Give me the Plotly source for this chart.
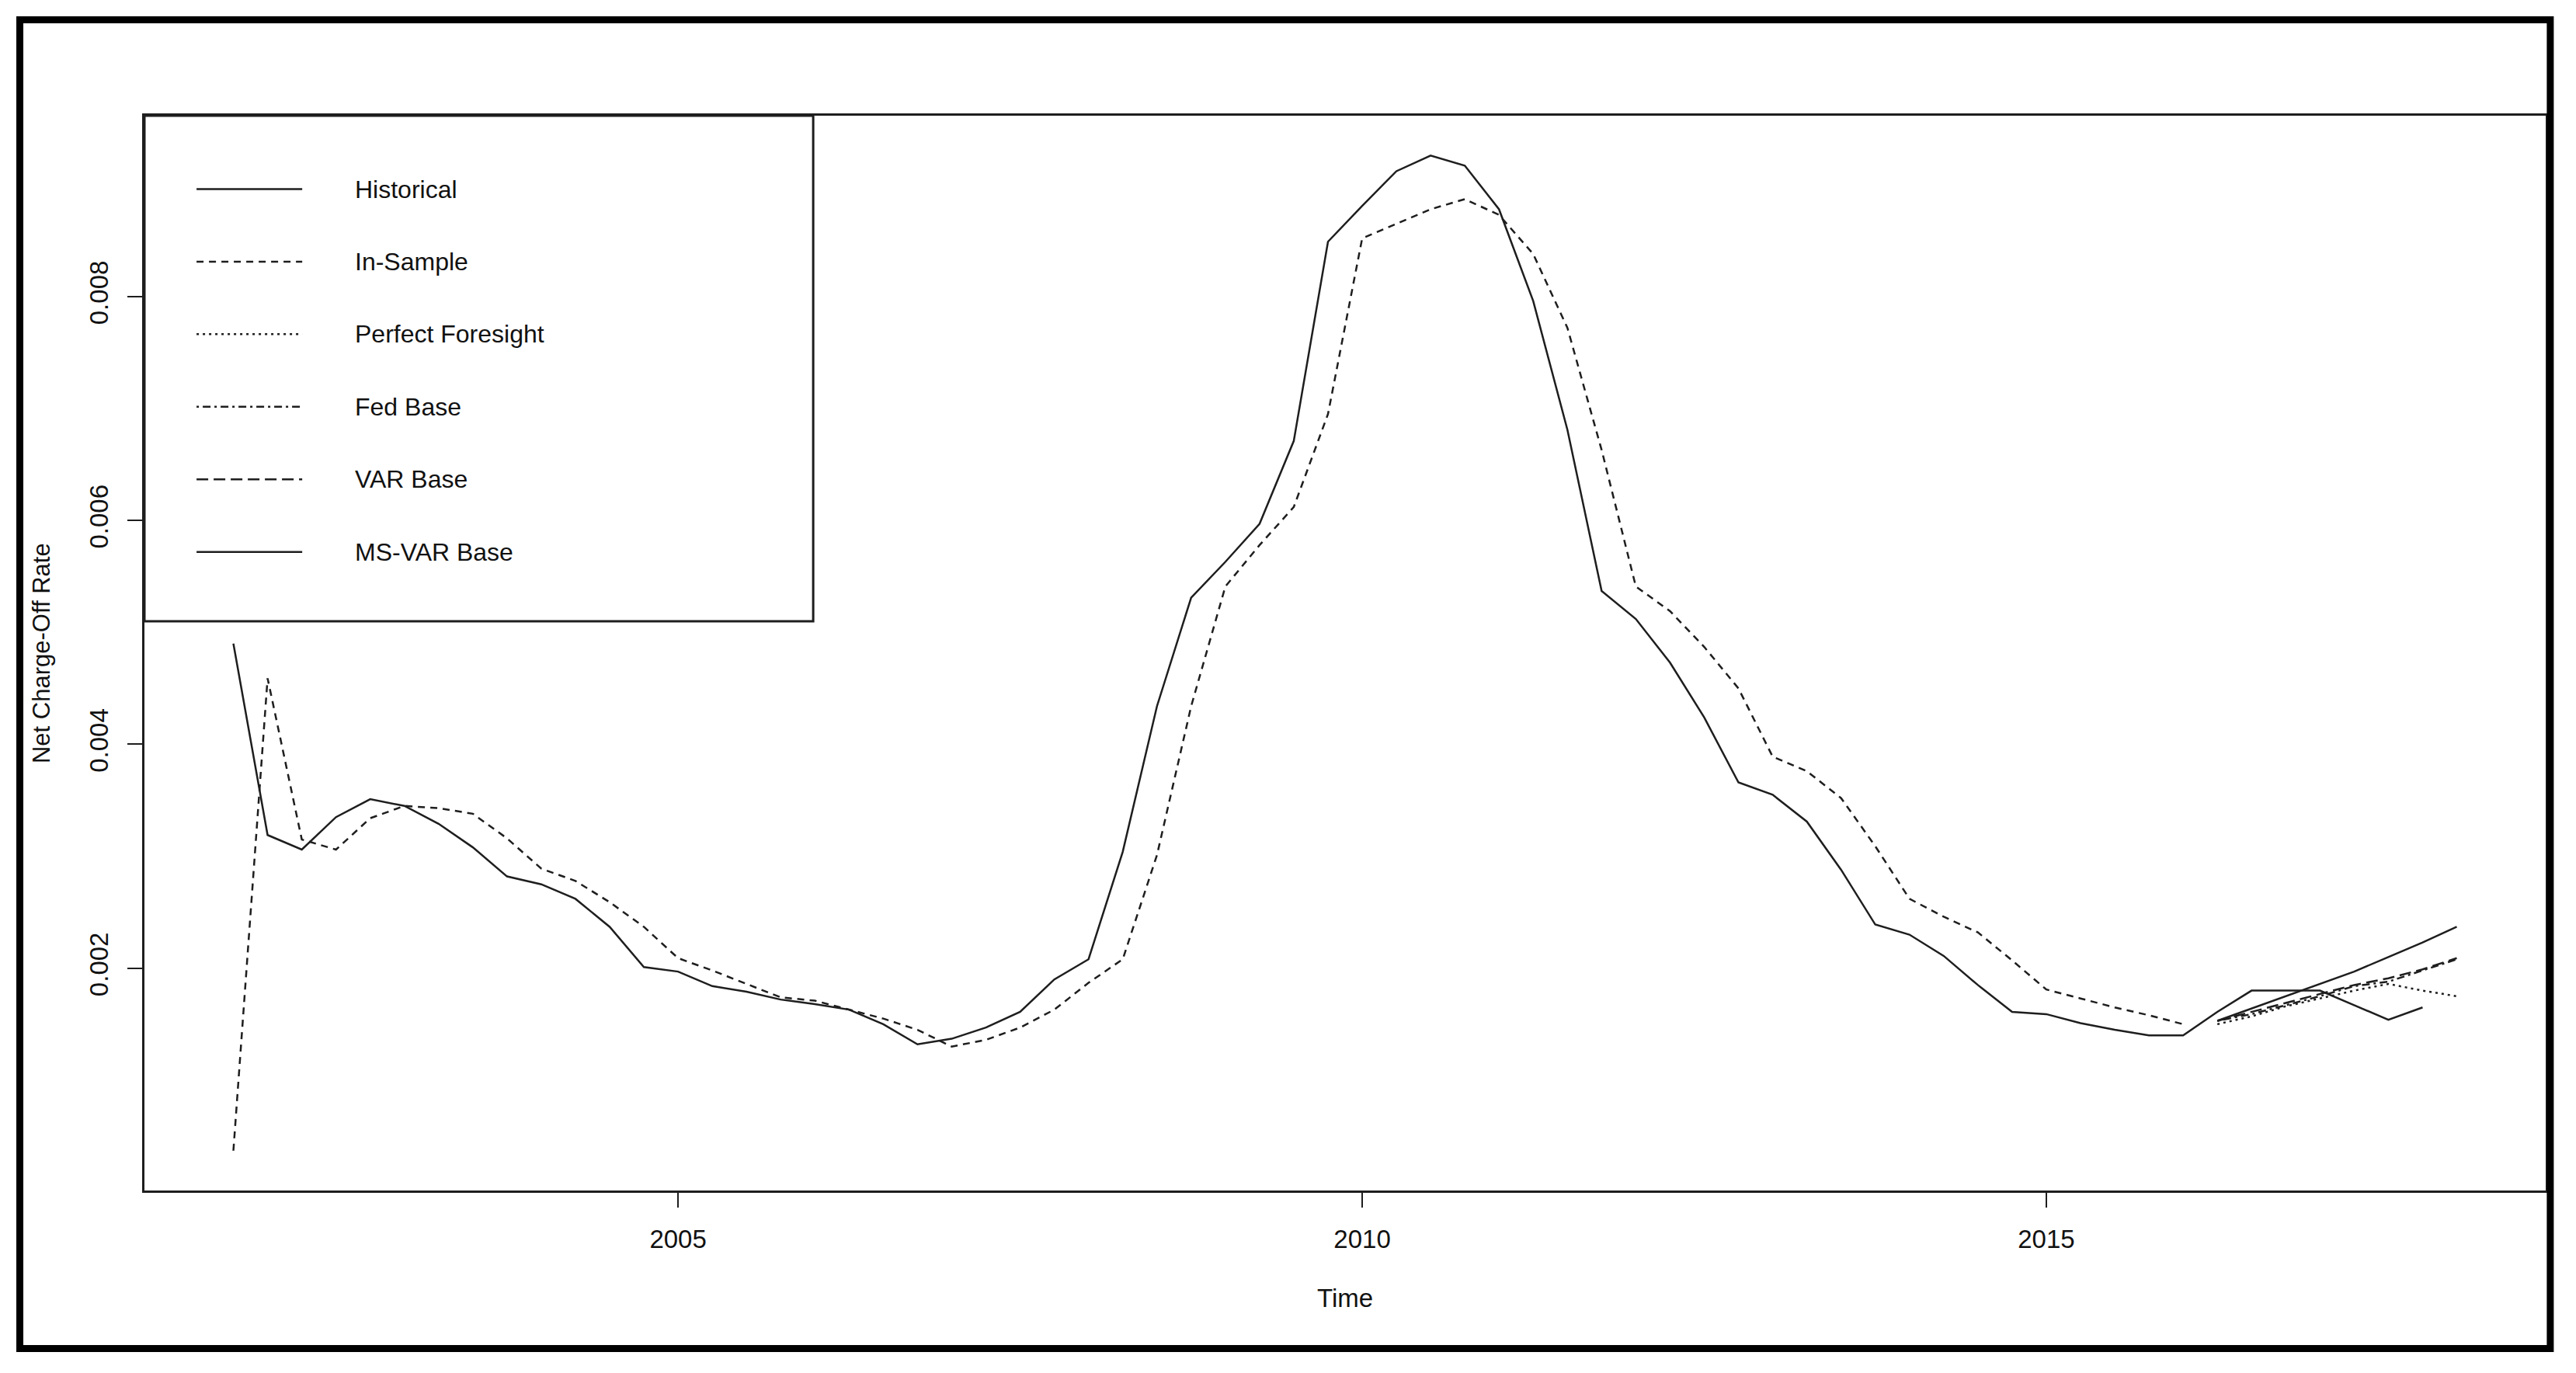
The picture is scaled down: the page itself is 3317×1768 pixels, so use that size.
"""Net charge-off rate: historical, in-sample fit and base-scenario forecasts."""

import pandas as pd
import plotly.graph_objects as go

# quarterly periods covered by each series
hist_quarters = pd.period_range("2001Q4", "2017Q4", freq="Q")
in_sample_quarters = pd.period_range("2001Q4", "2016Q1", freq="Q")
forecast_quarters = pd.period_range("2016Q2", "2018Q1", freq="Q")

historical = [
    0.00490, 0.00319, 0.00306, 0.00335, 0.00351, 0.00345, 0.00329, 0.00308,
    0.00282, 0.00275, 0.00262, 0.00237, 0.00201, 0.00197, 0.00184, 0.00179,
    0.00172, 0.00168, 0.00163, 0.00150, 0.00132, 0.00137, 0.00147, 0.00161,
    0.00190, 0.00208, 0.00304, 0.00434, 0.00531, 0.00563, 0.00597, 0.00671,
    0.00849, 0.00881, 0.00912, 0.00926, 0.00917, 0.00878, 0.00796, 0.00681,
    0.00537, 0.00512, 0.00473, 0.00424, 0.00366, 0.00355, 0.00331, 0.00288,
    0.00239, 0.00230, 0.00211, 0.00185, 0.00161, 0.00159, 0.00151, 0.00145,
    0.00140, 0.00140, 0.00161, 0.00180, 0.00180, 0.00180, 0.00167, 0.00154,
    0.00165,
]
in_sample = [
    0.00037, 0.00459, 0.00315, 0.00306, 0.00334, 0.00345, 0.00343, 0.00338,
    0.00316, 0.00289, 0.00278, 0.00259, 0.00237, 0.00209, 0.00198, 0.00186,
    0.00174, 0.00171, 0.00163, 0.00155, 0.00145, 0.00130, 0.00136, 0.00147,
    0.00163, 0.00187, 0.00208, 0.00301, 0.00434, 0.00541, 0.00578, 0.00612,
    0.00695, 0.00852, 0.00865, 0.00878, 0.00887, 0.00873, 0.00838, 0.00772,
    0.00663, 0.00541, 0.00519, 0.00487, 0.00450, 0.00389, 0.00376, 0.00352,
    0.00309, 0.00262, 0.00246, 0.00232, 0.00207, 0.00181, 0.00173, 0.00165,
    0.00158, 0.00150,
]
perfect_foresight = [0.00150, 0.00157, 0.00166, 0.00173, 0.00180, 0.00186,
                     0.00180, 0.00175]
fed_base = [0.00153, 0.00159, 0.00167, 0.00175, 0.00184, 0.00188, 0.00198,
            0.00208]
var_base = [0.00153, 0.00161, 0.00169, 0.00177, 0.00185, 0.00191, 0.00199,
            0.00209]
ms_var_base = [0.00153, 0.00164, 0.00175, 0.00186, 0.00197, 0.00210, 0.00223,
               0.00237]

x_tickvals = [2005, 2010, 2015]
y_tickvals = [0.002, 0.004, 0.006, 0.008]
y_ticktext = ["0.002", "0.004", "0.006", "0.008"]

legend_labels = ["Historical", "In-Sample", "Perfect Foresight", "Fed Base",
                 "VAR Base", "MS-VAR Base"]

# R style lty: solid, dashed, dotted, dotdash, longdash, solid
line_dashes = ["solid", "9px,7px", "3px,5px", "3px,5px,10px,5px",
               "15px,7px", "solid"]

FONT = "Liberation Sans, Arial, sans-serif"


def to_decimal_years(periods):
    """Turn quarterly periods into decimal years like an R ts index."""
    return [p.year + (p.quarter - 1) / 4 for p in periods]


def padded_range(values):
    """R default axis range: data range stretched by 4% each side."""
    lo, hi = min(values), max(values)
    pad = 0.04 * (hi - lo)
    return [lo - pad, hi + pad]


def get_traces():
    """Build one scatter line per series."""
    series = [
        (hist_quarters, historical),
        (in_sample_quarters, in_sample),
        (forecast_quarters, perfect_foresight),
        (forecast_quarters, fed_base),
        (forecast_quarters, var_base),
        (forecast_quarters, ms_var_base),
    ]
    ret = []
    for (quarters, values), name, dash in zip(series, legend_labels,
                                              line_dashes):
        ret.append(go.Scatter(
            x=to_decimal_years(quarters),
            y=values,
            name=name,
            mode="lines",
            line={"color": "#1e1e1e", "width": 2.5, "dash": dash},
        ))
    return ret


def get_legend_shapes_and_text():
    """Hand drawn legend box in the upper left, as R's legend() does."""
    shapes = [{
        "type": "rect", "xref": "x domain", "yref": "y domain",
        "x0": 0, "x1": 0.2785, "y0": 0.5296, "y1": 1,
        "line": {"color": "#1e1e1e", "width": 3},
        "fillcolor": "white", "layer": "above",
    }]
    annotations = []
    for i, (label, dash) in enumerate(zip(legend_labels, line_dashes)):
        y = 0.9317 - i * 0.0675
        shapes.append({
            "type": "line", "xref": "x domain", "yref": "y domain",
            "x0": 0.0217, "x1": 0.0657, "y0": y, "y1": y,
            "line": {"color": "#1e1e1e", "width": 2.5, "dash": dash},
            "layer": "above",
        })
        annotations.append({
            "text": label, "xref": "x domain", "yref": "y domain",
            "x": 0.087, "y": y, "xanchor": "left", "yanchor": "middle",
            "showarrow": False,
            "font": {"family": FONT, "size": 32, "color": "#111"},
        })
    return shapes, annotations


def get_fig():
    """Put together the full figure."""
    traces = get_traces()
    all_x = [x for t in traces for x in t.x]
    all_y = [y for t in traces for y in t.y]
    shapes, annotations = get_legend_shapes_and_text()

    # thick outer frame round the whole picture
    shapes.append({
        "type": "rect", "xref": "paper", "yref": "paper",
        "x0": -0.0519, "x1": 1.0019, "y0": -0.1470, "y1": 1.0892,
        "line": {"color": "black", "width": 9},
    })
    annotations += [
        {
            "text": "Time", "xref": "paper", "yref": "paper",
            "x": 0.5, "y": -0.1004, "xanchor": "center",
            "yanchor": "middle", "showarrow": False,
            "font": {"family": FONT, "size": 33, "color": "#111"},
        },
        {
            "text": "Net Charge-Off Rate", "xref": "paper", "yref": "paper",
            "x": -0.043, "y": 0.5, "xanchor": "center",
            "yanchor": "middle", "textangle": -90, "showarrow": False,
            "font": {"family": FONT, "size": 31, "color": "#111"},
        },
    ]

    axis_common = {
        "showline": True, "mirror": True, "linecolor": "#1e1e1e",
        "linewidth": 3, "showgrid": False, "zeroline": False,
        "ticks": "outside", "ticklen": 19, "tickwidth": 2,
        "tickcolor": "#1e1e1e", "fixedrange": True,
        "tickfont": {"family": FONT, "size": 33, "color": "#111"},
    }
    # page body keeps an 8px margin, so the figure is 8px smaller
    fig = go.Figure(
        data=traces,
        layout={
            "width": 3309, "height": 1760, "autosize": False,
            "margin": {"l": 178, "r": 39, "t": 141, "b": 235},
            "paper_bgcolor": "white", "plot_bgcolor": "white",
            "showlegend": False,
            "xaxis": dict(axis_common, **{
                "range": padded_range(all_x),
                "tickmode": "array",
                "tickvals": x_tickvals,
                "ticklabelstandoff": 12,
            }),
            "yaxis": dict(axis_common, **{
                "range": padded_range(all_y),
                "tickmode": "array",
                "tickvals": y_tickvals,
                "ticktext": y_ticktext,
                "tickangle": -90,
                "ticklabelstandoff": 12,
            }),
            "shapes": shapes,
            "annotations": annotations,
        },
    )
    return fig


fig = get_fig()
fig.write_html("out.html")
